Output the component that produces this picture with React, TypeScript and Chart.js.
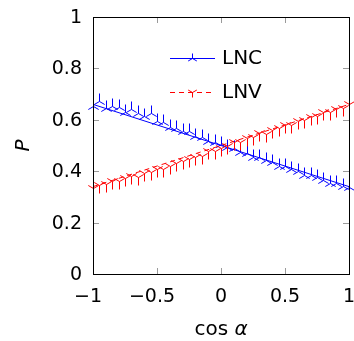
import React, { useEffect, useRef } from "react";
import { Chart, registerables } from "chart.js";

Chart.register(...registerables);

const X_VALUES = [
  -1, -0.95, -0.9, -0.85, -0.8, -0.75, -0.7, -0.65, -0.6, -0.55, -0.5, -0.45, -0.4, -0.35,
  -0.3, -0.25, -0.2, -0.15, -0.1, -0.05, 0, 0.05, 0.1, 0.15, 0.2, 0.25, 0.3, 0.35, 0.4,
  0.45, 0.5, 0.55, 0.6, 0.65, 0.7, 0.75, 0.8, 0.85, 0.9, 0.95, 1,
];
const LNC = [
  0.655, 0.672, 0.646, 0.655, 0.65, 0.63, 0.643, 0.626, 0.615, 0.625, 0.596, 0.59, 0.573,
  0.568, 0.556, 0.555, 0.538, 0.532, 0.519, 0.514, 0.505, 0.496, 0.49, 0.476, 0.472, 0.456,
  0.454, 0.443, 0.434, 0.422, 0.42, 0.408, 0.402, 0.386, 0.385, 0.376, 0.367, 0.356, 0.354,
  0.343, 0.338,
];
const LNV = [
  0.335, 0.345, 0.352, 0.36, 0.363, 0.374, 0.38, 0.376, 0.394, 0.396, 0.407, 0.41, 0.422,
  0.43, 0.44, 0.446, 0.457, 0.46, 0.477, 0.48, 0.49, 0.5, 0.512, 0.513, 0.53, 0.533,
  0.547, 0.546, 0.562, 0.568, 0.58, 0.58, 0.597, 0.598, 0.612, 0.616, 0.63, 0.63, 0.642,
  0.646, 0.66,
];
const FIT_X = [-1, 1];
const LNC_FIT = [0.66, 0.34];
const LNV_FIT = [0.34, 0.66];
const X_TICKS = [-1, -0.5, 0, 0.5, 1];
const Y_TICKS = [0, 0.2, 0.4, 0.6, 0.8, 1];
const SERIES_NAMES = ["LNC", "LNV"];

const BLUE = "#0000ff";
const RED = "#ff0000";
const FONT = "'DejaVu Sans', sans-serif";

const fmt = (v: number) => {
  const r = Math.round(v * 10) / 10;
  return r < 0 ? "\u2212" + String(Math.abs(r)) : String(r);
};

function drawTri(ctx: CanvasRenderingContext2D, x: number, y: number, up: boolean, stem: number, leg: number) {
  const s = up ? 1 : -1;
  const cx = Math.round(x) + 0.5;
  const cy = Math.round(y) + 0.5;
  ctx.beginPath();
  ctx.moveTo(cx, cy);
  ctx.lineTo(cx, cy - stem * s);
  ctx.moveTo(cx, cy);
  ctx.lineTo(cx - leg * 0.866, cy + leg * 0.5 * s);
  ctx.moveTo(cx, cy);
  ctx.lineTo(cx + leg * 0.866, cy + leg * 0.5 * s);
  ctx.stroke();
}

export default function App() {
  const ref = useRef<HTMLCanvasElement>(null);

  useEffect(() => {
    const decor = {
      id: "decor",
      afterDatasetsDraw(chart: any) {
        const { ctx, chartArea: a, scales } = chart;
        const xs = scales.x;
        const ys = scales.y;
        ctx.save();
        // markers
        ctx.lineWidth = 1;
        const markerSets = [
          { idx: 2, color: BLUE, up: true },
          { idx: 3, color: RED, up: false },
        ];
        for (const m of markerSets) {
          ctx.strokeStyle = m.color;
          for (const el of chart.getDatasetMeta(m.idx).data) {
            drawTri(ctx, el.x, el.y, m.up, 8, 6);
          }
        }
        // inward ticks
        ctx.strokeStyle = "#9a9a9a";
        ctx.beginPath();
        for (const v of Y_TICKS) {
          const py = Math.round(ys.getPixelForValue(v)) + 0.5;
          ctx.moveTo(a.left, py);
          ctx.lineTo(a.left + 6, py);
          ctx.moveTo(a.right, py);
          ctx.lineTo(a.right - 6, py);
        }
        for (const v of X_TICKS) {
          const px = Math.round(xs.getPixelForValue(v)) + 0.5;
          ctx.moveTo(px, a.bottom);
          ctx.lineTo(px, a.bottom - 6);
          ctx.moveTo(px, a.top);
          ctx.lineTo(px, a.top + 6);
        }
        ctx.stroke();
        // frame
        ctx.strokeStyle = "#000";
        ctx.strokeRect(
          Math.round(a.left) + 0.5,
          Math.round(a.top) + 0.5,
          Math.round(a.right - a.left),
          Math.round(a.bottom - a.top)
        );
        // tick labels
        ctx.fillStyle = "#000";
        ctx.font = `19px ${FONT}`;
        ctx.textAlign = "right";
        ctx.textBaseline = "middle";
        for (const v of Y_TICKS) {
          ctx.fillText(fmt(v), a.left - 11, ys.getPixelForValue(v) + 1);
        }
        ctx.textAlign = "center";
        ctx.textBaseline = "middle";
        for (const v of X_TICKS) {
          const lbl = fmt(v);
          let px = xs.getPixelForValue(v);
          if (v < 0) px -= 5;
          ctx.fillText(lbl, px, 297);
        }
        // legend
        const items = [
          { name: SERIES_NAMES[0], color: BLUE, dash: [] as number[], up: true, y: 58 },
          { name: SERIES_NAMES[1], color: RED, dash: [5, 4], up: false, y: 92 },
        ];
        for (const it of items) {
          ctx.strokeStyle = it.color;
          ctx.setLineDash(it.dash);
          ctx.beginPath();
          ctx.moveTo(170, it.y + 0.5);
          ctx.lineTo(215, it.y + 0.5);
          ctx.stroke();
          ctx.setLineDash([]);
          drawTri(ctx, 192, it.y, it.up, 5, 5);
          ctx.fillStyle = "#000";
          ctx.font = `20px ${FONT}`;
          ctx.textAlign = "left";
          ctx.textBaseline = "middle";
          ctx.fillText(it.name, 222, it.y + 1);
        }
        // axis titles
        ctx.fillStyle = "#000";
        ctx.textBaseline = "alphabetic";
        const cx = (a.left + a.right) / 2;
        const t1 = "cos ";
        ctx.font = `20px ${FONT}`;
        const w1 = ctx.measureText(t1).width;
        ctx.font = `italic 20px ${FONT}`;
        const w2 = ctx.measureText("\u03b1").width;
        const start = cx - (w1 + w2) / 2;
        ctx.font = `20px ${FONT}`;
        ctx.textAlign = "left";
        ctx.fillText(t1, start, 335);
        ctx.font = `italic 20px ${FONT}`;
        ctx.fillText("\u03b1", start + w1, 335);

        ctx.translate(29, (a.top + a.bottom) / 2);
        ctx.rotate(-Math.PI / 2);
        ctx.textAlign = "center";
        ctx.font = `italic 20px ${FONT}`;
        ctx.fillText("P", 0, 0);
        ctx.restore();
      },
    };

    const chart = new Chart(ref.current!, {
      type: "scatter",
      data: {
        datasets: [
          {
            label: SERIES_NAMES[0] + " fit",
            data: FIT_X.map((x, i) => ({ x, y: LNC_FIT[i] })),
            showLine: true,
            borderColor: BLUE,
            borderWidth: 1,
            pointRadius: 0,
          },
          {
            label: SERIES_NAMES[1] + " fit",
            data: FIT_X.map((x, i) => ({ x, y: LNV_FIT[i] })),
            showLine: true,
            borderColor: RED,
            borderWidth: 1,
            borderDash: [5, 4],
            pointRadius: 0,
          },
          {
            label: SERIES_NAMES[0],
            data: X_VALUES.map((x, i) => ({ x, y: LNC[i] })),
            showLine: false,
            pointRadius: 0,
          },
          {
            label: SERIES_NAMES[1],
            data: X_VALUES.map((x, i) => ({ x, y: LNV[i] })),
            showLine: false,
            pointRadius: 0,
          },
        ],
      },
      options: {
        animation: false,
        responsive: false,
        events: [],
        layout: { padding: { top: 17, right: 5, left: 0, bottom: 0 } },
        plugins: {
          legend: { display: false },
          tooltip: { enabled: false },
        },
        scales: {
          x: {
            type: "linear",
            min: -1,
            max: 1,
            afterFit: (s: any) => {
              s.height = 67;
            },
            grid: { display: false, drawTicks: false },
            border: { display: false },
            ticks: { display: false },
          },
          y: {
            type: "linear",
            min: 0,
            max: 1,
            afterFit: (s: any) => {
              s.width = 93;
            },
            grid: { display: false, drawTicks: false },
            border: { display: false },
            ticks: { display: false },
          },
        },
      },
      plugins: [decor],
    });
    return () => chart.destroy();
  }, []);

  return (
    <div style={{ position: "absolute", left: 0, top: 0, width: 354, height: 341 }}>
      <canvas ref={ref} width={354} height={341} style={{ display: "block" }} />
    </div>
  );
}
